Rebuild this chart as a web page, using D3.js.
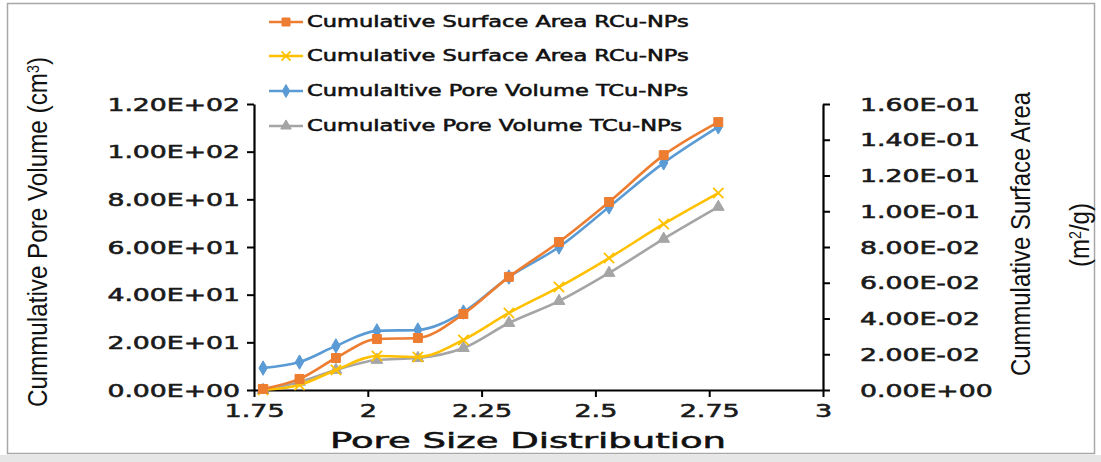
<!DOCTYPE html>
<html>
<head>
<meta charset="utf-8">
<script src="https://cdn.jsdelivr.net/npm/d3@7"></script>
<style>
  body { margin: 0; background: #fff; }
  svg { display: block; }
  .heavy { stroke: #1a1a1a; stroke-width: 0.55px; paint-order: stroke; }
</style>
</head>
<body>
<svg id="chart" width="1101" height="462"></svg>
<script>
// pore size values (x)
const poreSize = [1.77, 1.85, 1.93, 2.02, 2.11, 2.21, 2.31, 2.42, 2.53, 2.65, 2.77];

// surface area series, right axis (m2/g)
const surfaceRCuA = [0.0006, 0.0062, 0.0179, 0.0285, 0.0291, 0.0425, 0.0633, 0.0828, 0.1052, 0.1314, 0.1499];
const surfaceRCuB = [0.0000, 0.0028, 0.0112, 0.0190, 0.0185, 0.0280, 0.0431, 0.0576, 0.0738, 0.0929, 0.1102];

// pore volume series, left axis (cm3)
const volumeTCuA = [9.2, 11.7, 18.5, 24.8, 25.2, 32.7, 47.4, 60.0, 76.8, 95.3, 110.4];
const volumeTCuB = [0.0, 3.4, 8.4, 12.6, 13.4, 17.6, 28.1, 37.3, 49.1, 63.4, 76.8];

const xTicks = [1.75, 2, 2.25, 2.5, 2.75, 3];
const leftTicks = [0, 20, 40, 60, 80, 100, 120];
const rightTicks = [0, 0.02, 0.04, 0.06, 0.08, 0.10, 0.12, 0.14, 0.16];

const legendNames = [
  "Cumulative Surface Area RCu-NPs",
  "Cumulative Surface Area RCu-NPs",
  "Cumulaltive Pore Volume TCu-NPs",
  "Cumulative Pore Volume TCu-NPs"
];

const svg = d3.select("#chart");
const STRETCH = 1.57; // the picture is widened horizontally

// stretch a horizontal text element so it looks like the widened original
function widen(sel, k = STRETCH) {
  sel.each(function () {
    const w = this.getComputedTextLength();
    d3.select(this).attr("textLength", w * k).attr("lengthAdjust", "spacingAndGlyphs");
  });
}

const sciFmt = (d) => d3.format(".2e")(d).replace(/e([+-])(\d+)$/, (m, s, n) => "E" + s + n.padStart(2, "0"));

// outer frame
svg.append("rect").attr("x", 0).attr("y", 455).attr("width", 1101).attr("height", 7).attr("fill", "#e6e6e6");
svg.append("rect")
  .attr("x", 7.5).attr("y", 3.5).attr("width", 1087).attr("height", 450)
  .attr("fill", "#fff").attr("stroke", "#a8a8a8").attr("stroke-width", 1.5);

const x = d3.scaleLinear().domain([1.75, 3]).range([254, 823]);
const yL = d3.scaleLinear().domain([0, 120]).range([390, 104]);
const yR = d3.scaleLinear().domain([0, 0.16]).range([390, 104]);

// axes
const gL = svg.append("g").attr("transform", "translate(254,0)")
  .call(d3.axisLeft(yL).tickValues(leftTicks).tickSize(7).tickSizeOuter(0).tickFormat(sciFmt));
const gR = svg.append("g").attr("transform", "translate(823,0)")
  .call(d3.axisRight(yR).tickValues(rightTicks).tickSize(7).tickSizeOuter(0).tickFormat(sciFmt));
const gX = svg.append("g").attr("transform", "translate(0,390)")
  .call(d3.axisBottom(x).tickValues(xTicks).tickSize(7).tickSizeOuter(0).tickFormat((d) => String(d)));

[gL, gR, gX].forEach((g) => {
  g.select(".domain").attr("stroke", "#000").attr("stroke-width", 2.2);
  g.selectAll(".tick line").attr("stroke", "#000").attr("stroke-width", 2);
  g.selectAll(".tick text")
    .attr("class", "heavy")
    .attr("fill", "#1a1a1a")
    .style("font-family", "DejaVu Sans")
    .style("font-size", "17px");
});
gL.selectAll(".tick text").attr("x", -14).attr("dy", "0.36em");
gR.selectAll(".tick text").attr("x", 37).attr("dy", "0.36em");
gX.selectAll(".tick text").attr("y", 14).style("font-size", "18px");
gL.selectAll(".tick text").each(function () { widen(d3.select(this)); });
gR.selectAll(".tick text").each(function () { widen(d3.select(this)); });
gX.selectAll(".tick text").each(function () { widen(d3.select(this), 1.5); });
gL.selectAll(".tick text").attr("text-anchor", "end");
gR.selectAll(".tick text").attr("text-anchor", "start");

// series
const series = [
  { vals: surfaceRCuA, y: yR, color: "#ED7D31", symbol: d3.symbolSquare, size: 80, fill: true },
  { vals: surfaceRCuB, y: yR, color: "#FFC000", symbol: d3.symbolX, size: 70, fill: false },
  { vals: volumeTCuA, y: yL, color: "#5B9BD5", symbol: d3.symbolDiamond, size: 60, fill: true },
  { vals: volumeTCuB, y: yL, color: "#A5A5A5", symbol: d3.symbolTriangle, size: 60, fill: true }
];

// draw back to front so the orange and blue lie on top as in the original
[3, 1, 2, 0].forEach((i) => {
  const s = series[i];
  const pts = poreSize.map((p, j) => [x(p), s.y(s.vals[j])]);
  svg.append("path")
    .attr("d", d3.line().curve(d3.curveMonotoneX)(pts))
    .attr("fill", "none")
    .attr("stroke", s.color)
    .attr("stroke-width", 2.6);
  svg.append("g").selectAll("path")
    .data(pts)
    .join("path")
    .attr("transform", (d) => `translate(${d[0]},${d[1]})`)
    .attr("d", d3.symbol(s.symbol, s.size))
    .attr("fill", s.fill ? s.color : "none")
    .attr("stroke", s.color)
    .attr("stroke-width", s.fill ? 1 : 1.8);
});

// legend
const legend = svg.append("g");
const legendY = [22, 56, 91, 126];
series.forEach((s, i) => {
  const g = legend.append("g").attr("transform", `translate(0,${legendY[i]})`);
  g.append("line").attr("x1", 269).attr("x2", 303).attr("y1", 0).attr("y2", 0)
    .attr("stroke", s.color).attr("stroke-width", 2.6);
  g.append("path").attr("transform", "translate(286,0)")
    .attr("d", d3.symbol(s.symbol, s.size * 0.8))
    .attr("fill", s.fill ? s.color : "none")
    .attr("stroke", s.color).attr("stroke-width", s.fill ? 1 : 1.8);
  const t = g.append("text").attr("x", 307).attr("dy", "0.36em")
    .attr("class", "heavy")
    .attr("fill", "#111")
    .style("font-family", "DejaVu Sans")
    .style("font-size", "15px")
    .text(legendNames[i]);
  widen(t, 1.5);
});

// axis titles
const xt = svg.append("text")
  .attr("x", 330).attr("y", 448)
  .attr("class", "heavy")
  .attr("fill", "#111")
  .style("font-family", "DejaVu Sans")
  .style("font-size", "21px")
  .text("Pore Size Distribution");
xt.attr("textLength", 396).attr("lengthAdjust", "spacingAndGlyphs");

const lt = svg.append("text")
  .attr("transform", "translate(47,232) rotate(-90)")
  .attr("text-anchor", "middle")
  .attr("fill", "#111")
  .style("font-family", "Liberation Sans Narrow, Liberation Sans")
  .style("font-size", "27px");
lt.append("tspan").text("Cummulative Pore Volume (cm");
lt.append("tspan").attr("baseline-shift", "super").style("font-size", "16px").text("3");
lt.append("tspan").text(")");
lt.attr("textLength", 350).attr("lengthAdjust", "spacingAndGlyphs");

const rt = svg.append("text")
  .attr("transform", "translate(1030,234) rotate(-90)")
  .attr("text-anchor", "middle")
  .attr("fill", "#111")
  .style("font-family", "Liberation Sans Narrow, Liberation Sans")
  .style("font-size", "27px")
  .text("Cummulative Surface Area");
rt.attr("textLength", 284).attr("lengthAdjust", "spacingAndGlyphs");

const ru = svg.append("text")
  .attr("transform", "translate(1089,235) rotate(-90)")
  .attr("text-anchor", "middle")
  .attr("fill", "#111")
  .style("font-family", "Liberation Sans Narrow, Liberation Sans")
  .style("font-size", "27px");
ru.append("tspan").text("(m");
ru.append("tspan").attr("baseline-shift", "super").style("font-size", "16px").text("2");
ru.append("tspan").text("/g)");
ru.attr("textLength", 64).attr("lengthAdjust", "spacingAndGlyphs");
</script>
</body>
</html>
